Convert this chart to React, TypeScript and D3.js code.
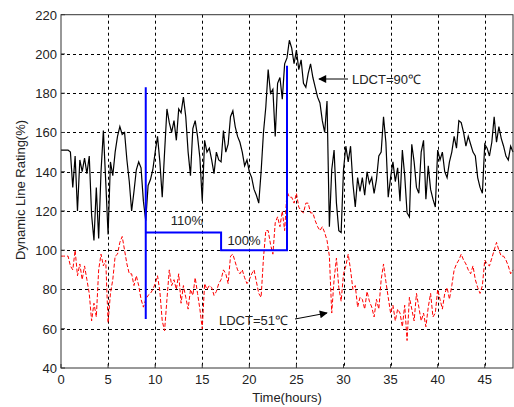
import React, { useEffect, useRef } from 'react';
import * as d3 from 'd3';

// sampled every 15 min (0 .. 48 h)
const STEP = 0.25;

const ldct90: number[] = [
    151, 151, 151, 151, 150, 132, 148, 120, 146, 140, 147, 139, 148, 118, 105, 132,
    106, 140, 161, 135, 108, 145, 138, 150, 158, 163, 159, 160, 146, 135, 120, 130,
    141, 145, 142, 125, 115, 133, 136, 141, 150, 158, 145, 127, 150, 172, 165, 160,
    166, 156, 172, 170, 178, 168, 150, 138, 162, 166, 158, 147, 125, 156, 150, 152,
    146, 139, 150, 146, 145, 161, 150, 154, 168, 171, 163, 158, 155, 150, 143, 146,
    140, 137, 131, 128, 124, 140, 160, 173, 192, 180, 182, 158, 185, 188, 177, 195,
    198, 207, 203, 195, 202, 192, 197, 185, 183, 190, 195, 188, 183, 178, 175, 166,
    160, 176, 112, 141, 151, 124, 110, 109, 141, 153, 145, 153, 134, 122, 137, 130,
    137, 128, 140, 134, 137, 129, 136, 148, 150, 168, 155, 127, 137, 145, 135, 142,
    125, 151, 138, 119, 117, 154, 145, 132, 129, 150, 156, 126, 143, 131, 126, 122,
    151, 146, 150, 140, 137, 145, 150, 158, 152, 166, 165, 160, 153, 158, 154, 150,
    148, 137, 132, 129, 154, 152, 148, 155, 168, 155, 163, 157, 153, 148, 146, 153,
    150
];

const ldct51: number[] = [
    97, 97, 97, 97, 92, 90, 100, 87, 93, 85, 92, 85, 78, 64, 73, 66,
    90, 98, 92, 95, 63, 78, 85, 97, 98, 104, 107, 100, 93, 88, 88, 82,
    87, 82, 75, 71, 75, 77, 78, 80, 83, 87, 79, 64, 59, 75, 90, 82,
    85, 80, 88, 73, 82, 76, 70, 80, 77, 86, 78, 70, 60, 83, 80, 82,
    81, 77, 79, 83, 85, 90, 88, 83, 97, 98, 94, 90, 88, 90, 86, 83,
    85, 88, 90, 84, 78, 76, 96, 110, 110, 103, 98, 114, 117, 112, 120, 110,
    130, 127, 127, 124, 129, 122, 120, 119, 124, 124, 119, 119, 115, 112, 110, 112,
    109, 105, 97, 68, 85, 96, 81, 74, 88, 92, 98, 90, 80, 82, 71, 76,
    75, 70, 79, 74, 71, 66, 75, 70, 85, 93, 84, 76, 68, 72, 64, 70,
    68, 61, 72, 54, 76, 70, 64, 78, 71, 64, 68, 61, 71, 78, 66, 68,
    80, 75, 70, 78, 81, 75, 82, 90, 93, 95, 98, 95, 93, 90, 88, 92,
    85, 81, 78, 82, 95, 93, 92, 96, 100, 104, 100, 97, 97, 95, 92, 88,
    90
];

// 110% / 100% overload schedule
const stepHours = [9, 9, 9, 17, 17, 24, 24];
const stepValues = [183, 65, 109, 109, 100, 100, 194];

const xTicks = [0, 5, 10, 15, 20, 25, 30, 35, 40, 45];
const yTicks = [40, 60, 80, 100, 120, 140, 160, 180, 200, 220];

const FONT = 'Arial, "Liberation Sans", sans-serif';

export default function App() {
    const svgRef = useRef<SVGSVGElement>(null);

    useEffect(() => {
        const svg = d3.select(svgRef.current);
        svg.selectAll('*').remove();

        const W = 514;
        const H = 407;
        const left = 61, right = 513, top = 14.7, bottom = 368;

        svg.attr('width', W).attr('height', H);
        svg.append('rect').attr('width', W).attr('height', H).attr('fill', '#fff');

        const x = d3.scaleLinear().domain([0, 48]).range([left, right]);
        const y = d3.scaleLinear().domain([40, 220]).range([bottom, top]);

        svg.append('defs').append('marker')
            .attr('id', 'arr')
            .attr('viewBox', '0 0 10 10')
            .attr('refX', 9).attr('refY', 5)
            .attr('markerWidth', 10).attr('markerHeight', 8)
            .attr('markerUnits', 'userSpaceOnUse')
            .attr('orient', 'auto')
            .append('path').attr('d', 'M0,0 L10,5 L0,10 Z').attr('fill', '#000');

        // grid
        const grid = svg.append('g').attr('stroke', '#000').attr('stroke-width', 1).attr('stroke-dasharray', '3,3');
        xTicks.filter((t) => t > 0).forEach((t) => {
            grid.append('line').attr('x1', Math.round(x(t)) + 0.5).attr('x2', Math.round(x(t)) + 0.5).attr('y1', top).attr('y2', bottom);
        });
        yTicks.filter((t) => t > 40 && t < 220).forEach((t) => {
            grid.append('line').attr('x1', left).attr('x2', right).attr('y1', Math.round(y(t)) + 0.5).attr('y2', Math.round(y(t)) + 0.5);
        });

        const times = (arr: number[]) => arr.map((v, i) => [i * STEP, v] as [number, number]);
        const line = d3.line<[number, number]>().x((d) => x(d[0])).y((d) => y(d[1]));

        // LDCT = 51 (red dashed)
        svg.append('path')
            .datum(times(ldct51))
            .attr('fill', 'none')
            .attr('stroke', '#ff0000')
            .attr('stroke-width', 1)
            .attr('stroke-dasharray', '4,2')
            .attr('d', line);

        // LDCT = 90 (black)
        svg.append('path')
            .datum(times(ldct90))
            .attr('fill', 'none')
            .attr('stroke', '#000')
            .attr('stroke-width', 1.2)
            .attr('d', line);

        // blue schedule
        svg.append('path')
            .datum(stepHours.map((h, i) => [h, stepValues[i]] as [number, number]))
            .attr('fill', 'none')
            .attr('stroke', '#0000ff')
            .attr('stroke-width', 2)
            .attr('d', line);

        // frame
        svg.append('rect')
            .attr('x', left).attr('y', top)
            .attr('width', right - left).attr('height', bottom - top)
            .attr('fill', 'none').attr('stroke', '#333').attr('stroke-width', 1);

        // ticks + labels
        const ax = svg.append('g').style('font-family', FONT).style('font-size', '13px').attr('fill', '#222');
        xTicks.forEach((t) => {
            ax.append('line').attr('x1', x(t)).attr('x2', x(t)).attr('y1', bottom).attr('y2', bottom - 4).attr('stroke', '#333');
            ax.append('text').attr('x', x(t)).attr('y', 384).attr('text-anchor', 'middle').text(t);
        });
        yTicks.forEach((t) => {
            ax.append('line').attr('x1', left).attr('x2', left + 4).attr('y1', y(t)).attr('y2', y(t)).attr('stroke', '#333');
            ax.append('text').attr('x', 57).attr('y', y(t) + 5).attr('text-anchor', 'end').text(t);
        });

        ax.append('text')
            .attr('x', 287).attr('y', 402)
            .attr('text-anchor', 'middle')
            .text('Time(hours)');

        ax.append('text')
            .attr('transform', 'translate(25,190) rotate(-90)')
            .attr('text-anchor', 'middle')
            .text('Dynamic Line Rating(%)');

        // annotations
        ax.append('text').attr('x', 187).attr('y', 225).attr('text-anchor', 'middle').text('110%');
        ax.append('text').attr('x', 244).attr('y', 245).attr('text-anchor', 'middle').text('100%');
        ax.append('text').attr('x', 352).attr('y', 84).text('LDCT=90\u2103');
        ax.append('text').attr('x', 219).attr('y', 325).text('LDCT=51\u2103');

        svg.append('line')
            .attr('x1', 348).attr('y1', 79).attr('x2', 319).attr('y2', 79)
            .attr('stroke', '#000').attr('stroke-width', 1).attr('marker-end', 'url(#arr)');
        svg.append('line')
            .attr('x1', 295).attr('y1', 319).attr('x2', 327).attr('y2', 313)
            .attr('stroke', '#000').attr('stroke-width', 1).attr('marker-end', 'url(#arr)');
    }, []);

    return (
        <div style={{ position: 'absolute', left: 0, top: 0 }}>
            <svg ref={svgRef} style={{ display: 'block' }} />
        </div>
    );
}
